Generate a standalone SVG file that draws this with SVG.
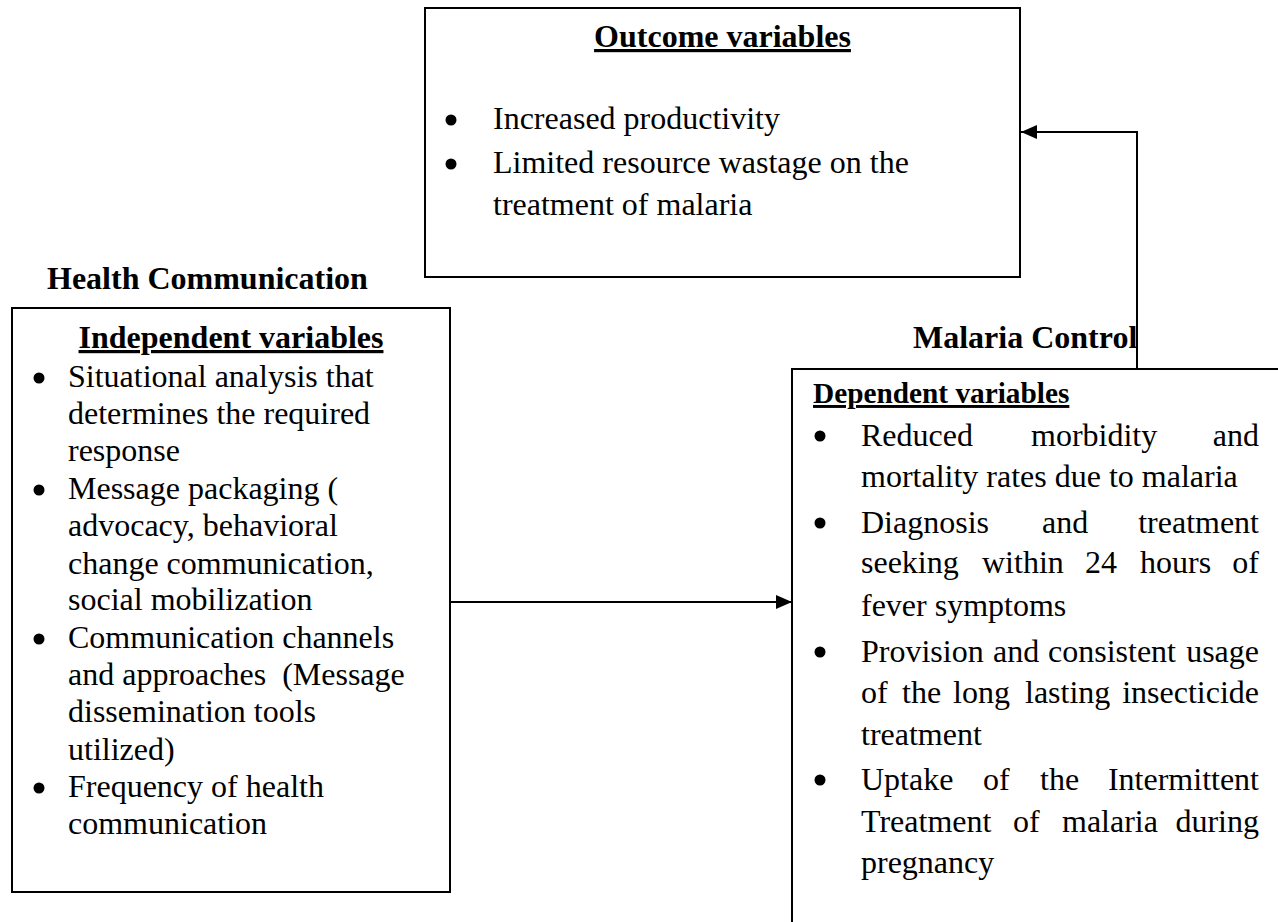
<svg xmlns="http://www.w3.org/2000/svg" width="1278" height="922" viewBox="0 0 1278 922">
  <defs>
    <style>
      .t { font-family: "Liberation Serif", "Times New Roman", serif; font-size: 32px; fill: #000; }
      .b { font-weight: bold; }
      .u { text-decoration: underline; }
      .box { fill: #fff; stroke: #000; stroke-width: 2; }
      .edge { fill: none; stroke: #000; stroke-width: 2; }
      .dot { fill: #000; }
    </style>
    <marker id="arrow" viewBox="0 0 16 14" refX="16" refY="7" markerWidth="16" markerHeight="14" markerUnits="userSpaceOnUse" orient="auto">
      <path d="M0,0 L16,7 L0,14 Z" fill="#000"/>
    </marker>
  </defs>
  <rect width="1278" height="922" fill="#fff"/>

  <!-- Outcome variables -->
  <g id="outcome">
    <rect class="box" x="425" y="8" width="595" height="269"/>
    <text class="t b u" x="722.5" y="47" text-anchor="middle">Outcome variables</text>
    <circle class="dot" cx="451" cy="120" r="5.5"/>
    <text class="t" x="493" y="129">Increased productivity</text>
    <circle class="dot" cx="451" cy="164" r="5.5"/>
    <text class="t" x="493" y="173">Limited resource wastage on the</text>
    <text class="t" x="493" y="215">treatment of malaria</text>
  </g>

  <!-- Health Communication / independent variables -->
  <g id="independent">
    <text class="t b" x="47" y="289">Health Communication</text>
    <rect class="box" x="12" y="308" width="438" height="584"/>
    <text class="t b u" x="231" y="348" text-anchor="middle">Independent variables</text>
    <circle class="dot" cx="39" cy="378" r="5.5"/>
    <text class="t" x="68" y="387">Situational analysis that</text>
    <text class="t" x="68" y="424">determines the required</text>
    <text class="t" x="68" y="461">response</text>
    <circle class="dot" cx="39" cy="490" r="5.5"/>
    <text class="t" x="68" y="499">Message packaging (</text>
    <text class="t" x="68" y="536">advocacy, behavioral</text>
    <text class="t" x="68" y="573.5">change communication,</text>
    <text class="t" x="68" y="610">social mobilization</text>
    <circle class="dot" cx="39" cy="639" r="5.5"/>
    <text class="t" x="68" y="648">Communication channels</text>
    <text class="t" x="68" y="685">and approaches&#160; (Message</text>
    <text class="t" x="68" y="722">dissemination tools</text>
    <text class="t" x="68" y="760">utilized)</text>
    <circle class="dot" cx="39" cy="788" r="5.5"/>
    <text class="t" x="68" y="797">Frequency of health</text>
    <text class="t" x="68" y="834">communication</text>
  </g>

  <!-- Malaria Control / dependent variables -->
  <g id="dependent">
    <text class="t b" x="913" y="348">Malaria Control</text>
    <path class="edge" d="M792,922 V369 H1278"/>
    <text class="t b u" x="813" y="403" style="font-size:29.3px">Dependent variables</text>

    <circle class="dot" cx="820" cy="436" r="5.5"/>
    <text class="t" x="861" y="446">Reduced</text>
    <text class="t" x="1031" y="446">morbidity</text>
    <text class="t" x="1259" y="446" text-anchor="end">and</text>
    <text class="t" x="861" y="487">mortality rates due to malaria</text>

    <circle class="dot" cx="820" cy="523" r="5.5"/>
    <text class="t" x="861" y="533">Diagnosis</text>
    <text class="t" x="1042" y="533">and</text>
    <text class="t" x="1259" y="533" text-anchor="end">treatment</text>
    <text class="t" x="861" y="573">seeking</text>
    <text class="t" x="982" y="573">within</text>
    <text class="t" x="1085" y="573">24</text>
    <text class="t" x="1140" y="573">hours</text>
    <text class="t" x="1259" y="573" text-anchor="end">of</text>
    <text class="t" x="861" y="616">fever symptoms</text>

    <circle class="dot" cx="820" cy="652" r="5.5"/>
    <text class="t" x="861" y="662">Provision</text>
    <text class="t" x="993" y="662">and</text>
    <text class="t" x="1048" y="662">consistent</text>
    <text class="t" x="1259" y="662" text-anchor="end">usage</text>
    <text class="t" x="861" y="703">of</text>
    <text class="t" x="902" y="703">the</text>
    <text class="t" x="953" y="703">long</text>
    <text class="t" x="1025" y="703">lasting</text>
    <text class="t" x="1259" y="703" text-anchor="end">insecticide</text>
    <text class="t" x="861" y="745">treatment</text>

    <circle class="dot" cx="820" cy="780" r="5.5"/>
    <text class="t" x="861" y="790">Uptake</text>
    <text class="t" x="983" y="790">of</text>
    <text class="t" x="1040" y="790">the</text>
    <text class="t" x="1259" y="790" text-anchor="end">Intermittent</text>
    <text class="t" x="861" y="832">Treatment</text>
    <text class="t" x="1013" y="832">of</text>
    <text class="t" x="1062" y="832">malaria</text>
    <text class="t" x="1259" y="832" text-anchor="end">during</text>
    <text class="t" x="861" y="873">pregnancy</text>
  </g>

  <!-- connectors -->
  <g id="connectors">
    <path class="edge" d="M450,602 H792" marker-end="url(#arrow)"/>
    <path class="edge" d="M1137,369 V132 H1021" stroke-width="1.6" marker-end="url(#arrow)"/>
  </g>
</svg>
